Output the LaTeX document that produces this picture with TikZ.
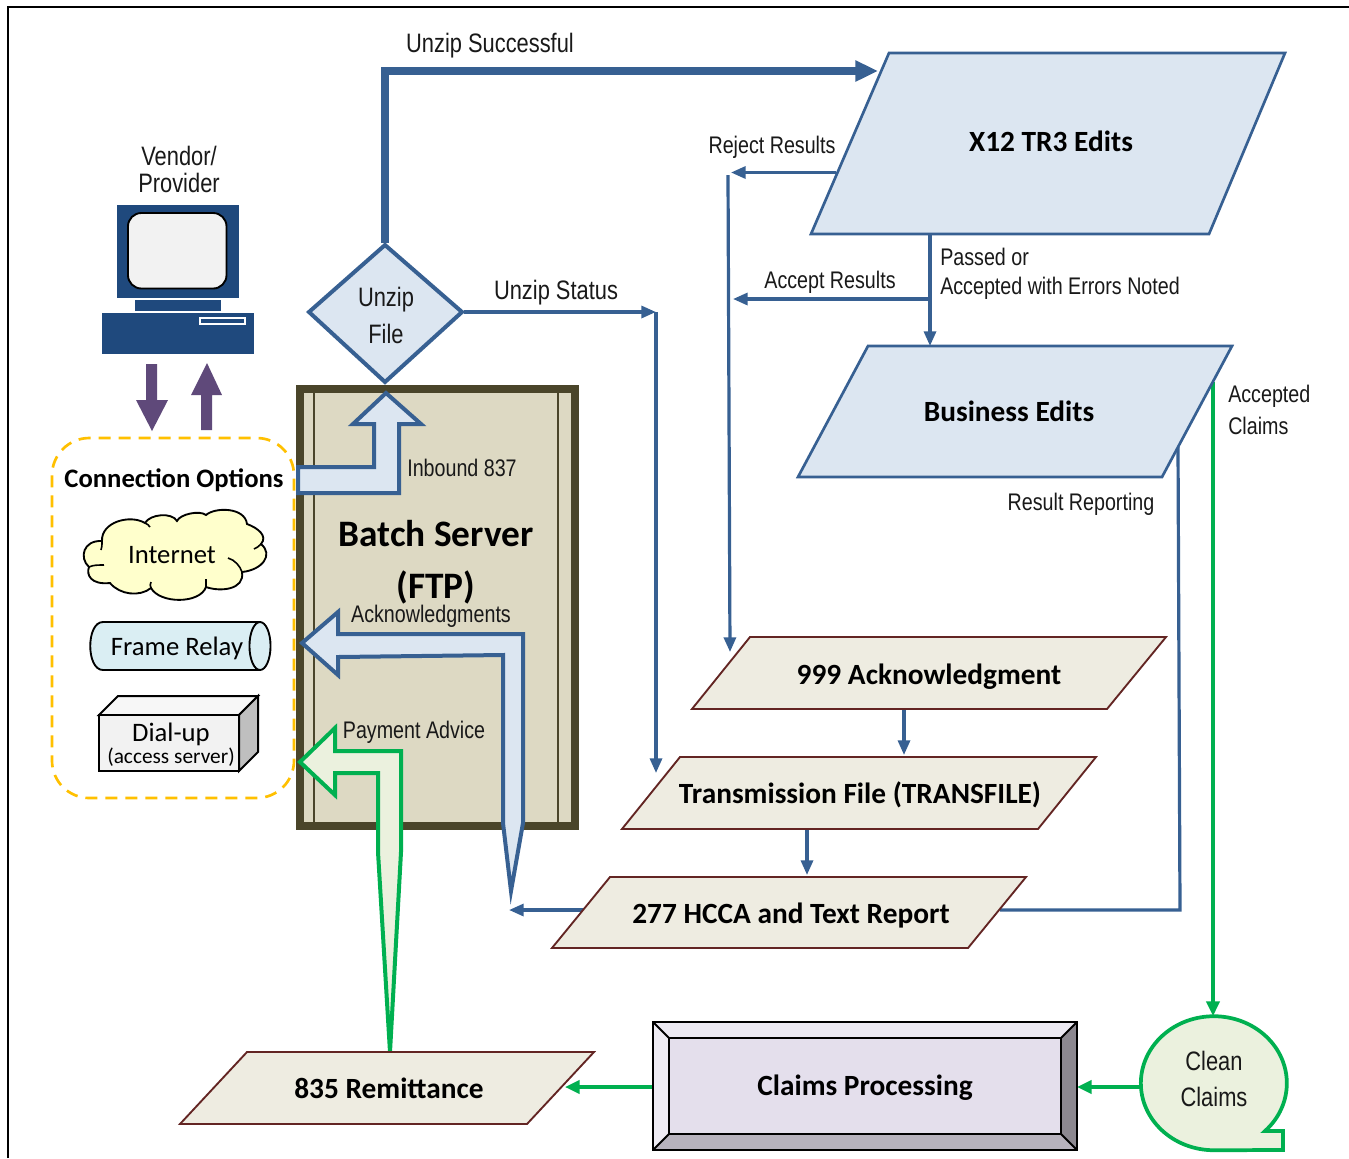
\documentclass[tikz,border=0pt]{standalone}
\usepackage{fontspec}
\setmainfont{Carlito}
\newfontfamily\narrowf[FakeStretch=0.82]{Liberation Sans}
\usetikzlibrary{arrows.meta}
\definecolor{bl}{HTML}{376092}
\definecolor{lb}{HTML}{DCE6F1}
\definecolor{gr}{HTML}{00B050}
\definecolor{lg}{HTML}{EBF1DE}
\definecolor{pu}{HTML}{5F497A}
\definecolor{ta}{HTML}{DDD9C3}
\definecolor{dk}{HTML}{4A452A}
\definecolor{cr}{HTML}{EEECE1}
\definecolor{re}{HTML}{632523}
\definecolor{nv}{HTML}{1F497D}
\definecolor{optcol}{HTML}{FFC000}
\definecolor{cloudc}{HTML}{FFFFCC}
\definecolor{frc}{HTML}{DAEEF3}
\definecolor{cpc}{HTML}{E4DFEC}
\definecolor{cpt}{HTML}{ECE9F2}
\definecolor{cpl}{HTML}{EFECF4}
\definecolor{cpb}{HTML}{B7B2BD}
\definecolor{cpr}{HTML}{8C8890}
\tikzset{
 x=0.75pt,y=-0.75pt,
 lab/.style={font=\narrowf\fontsize{18}{18}\selectfont,inner sep=0pt,text=black!90},
 biglab/.style={font=\narrowf\fontsize{20}{20}\selectfont,inner sep=0pt,text=black!90},
 hd/.style={font=\bfseries\fontsize{22}{22}\selectfont,inner sep=0pt},
 reg/.style={font=\fontsize{20}{20}\selectfont,inner sep=0pt},
 para/.style={draw=bl,fill=lb,line width=2pt,line join=miter},
 cream/.style={draw=re,fill=cr,line width=1.4pt},
 blk/.style={draw=bl,fill=lb,line width=3pt,line join=miter},
 grn/.style={draw=gr,fill=lg,line width=3pt,line join=miter},
 bluec/.style={draw=bl,line width=2.4pt,-{Triangle[length=11pt,width=9pt]}},
 bluep/.style={draw=bl,line width=2.4pt},
 greenc/.style={draw=gr,line width=2.4pt,-{Triangle[length=11pt,width=10pt]}},
 bev/.style={draw=black,line width=1.4pt,line join=miter},
 cloudtick/.style={draw=black,line width=1.2pt},
}
\begin{document}
\begin{tikzpicture}
\useasboundingbox (0,0) rectangle (1349,1158);
\fill[white] (0,0) rectangle (1349,1158);
% frame
\draw[black,line width=1.5pt] (8,1158) -- (8,6.5) -- (1349,6.5);

% computer
\node[biglab] (vend) at (179,156) {Vendor/};
\node[biglab] (prov) at (179,183) {Provider};
\fill[nv] (117,205) rectangle (239,298);
\draw[black,fill=black!5,line width=1.4pt,rounded corners=10pt] (128,213) rectangle (226.5,288.5);
\fill[nv] (135,300) rectangle (221,311);
\fill[nv] (102,313) rectangle (254,354);
\draw[white,line width=1pt] (200,318) rectangle (245,324);

% purple arrows
\fill[pu] (146,364) -- (157,364) -- (157,400) -- (168,400) -- (152,431) -- (136,400) -- (146,400) -- cycle;
\fill[pu] (201,430) -- (212,430) -- (212,395) -- (222,395) -- (207,363) -- (191,395) -- (201,395) -- cycle;

% batch server
\draw[dk,fill=ta,line width=6pt,line join=miter] (300,388.5) rectangle (575,825.5);
\draw[dk,line width=0.9pt] (314,392) -- (314,823);
\draw[dk,line width=0.9pt] (558,392) -- (558,823);
\node[font=\bfseries\fontsize{28}{28}\selectfont,inner sep=0pt] (batch) at (436,534) {Batch Server};
\node[font=\bfseries\fontsize{28}{28}\selectfont,inner sep=0pt] (ftp) at (436,587) {(FTP)};

% options box
\draw[draw=optcol,line width=2pt,dash pattern=on 9pt off 6pt,rounded corners=28pt] (52,438) rectangle (294,798);
\node[hd,font=\bfseries\fontsize{20}{20}\selectfont] (opts) at (174,480) {Connection Options};

% cloud
\draw[black,fill=cloudc,line width=1.4pt] (102,541)
 .. controls (101,522) and (130,514) .. (145,523)
 .. controls (150,514) and (172,512) .. (177,521)
 .. controls (180,514) and (200,510) .. (206,515)
 .. controls (215,507) and (245,507) .. (247,524)
 .. controls (258,528) and (268,536) .. (261,544)
 .. controls (274,555) and (262,570) .. (242,572)
 .. controls (245,590) and (220,592) .. (206,587)
 .. controls (200,604) and (160,604) .. (151,588)
 .. controls (140,597) and (120,595) .. (110,583)
 .. controls (91,585) and (86,575) .. (89,567)
 .. controls (79,558) and (83,540) .. (102,541) -- cycle;
\draw[cloudtick] (89,567) .. controls (93,565) and (98,565) .. (104,565);
\draw[cloudtick] (102,541) .. controls (102,545) and (102,548) .. (101,550);
\draw[cloudtick] (228,558) .. controls (235,560) and (240,566) .. (242,572);
\draw[cloudtick] (261,544) .. controls (259,546) and (257,548) .. (254,549);
\draw[cloudtick] (145,523) .. controls (147,524) and (149,525) .. (150,527);
\draw[cloudtick] (206,587) .. controls (206,584) and (206,582) .. (206,579);
\draw[cloudtick] (151,588) .. controls (150,586) and (150,584) .. (151,582);
\node[reg] (inet) at (172,555) {Internet};

% frame relay
\draw[black,fill=frc,line width=1.4pt] (260,622) -- (103,622) .. controls (86,622) and (86,670) .. (103,670) -- (260,670);
\draw[black,fill=frc,line width=1.4pt] (260,646) ellipse [x radius=7.9pt,y radius=18pt];
\node[reg] (frame) at (177,648) {Frame Relay};

% dial-up
\draw[black,fill=black!3,line width=1.5pt,line join=miter] (99,715) -- (118,696) -- (258,696) -- (239,715) -- cycle;
\draw[black,fill=black!25,line width=1.5pt,line join=miter] (239,715) -- (258,696) -- (258,752) -- (239,771) -- cycle;
\draw[black,fill=black!5,line width=1.5pt,line join=miter] (99,715) rectangle (239,771);
\node[reg] (dial) at (171,734) {Dial-up};
\node[reg,font=\fontsize{16}{16}\selectfont] (acc) at (171,757) {(access server)};

% anchors on shapes
\coordinate (dT) at (385,243);
\coordinate (dR) at (464,312);
\coordinate (xW) at (878,71);
\coordinate (xRej) at (836,172.5);
\coordinate (rejEnd) at (731,172.5);
\coordinate (rejTop) at (728,175);
\coordinate (ackW) at (730,652);
\coordinate (xS) at (930,234);
\coordinate (bN) at (930,346);
\coordinate (accL) at (733,299);
\coordinate (accR) at (930,299);
\coordinate (stBend) at (656,312);
\coordinate (tfN) at (656,773);
\coordinate (a9S) at (904,709);
\coordinate (tfTop) at (904,755);
\coordinate (tfS) at (807,829);
\coordinate (rpTop) at (807,875);
\coordinate (rpL) at (585,910);
\coordinate (rpEnd) at (509,910);
\coordinate (bzS) at (1178,447);
\coordinate (bzBend) at (1180,910);
\coordinate (rpR) at (1000,910);
\coordinate (bzG) at (1213,382);
\coordinate (ccN) at (1213,1016);
\coordinate (ccW) at (1142,1087);
\coordinate (cpE) at (1077,1087);
\coordinate (cpW) at (653,1087);
\coordinate (rmE) at (565,1087);

% thick connector
\draw[bl,line width=5.7pt,line join=miter,-{Triangle[length=17pt,width=15pt]}] (dT) -- (385,71) -- (xW);

% connectors behind shapes
\draw[bluec] (xRej) -- (rejEnd);
\draw[bluec] (rejTop) -- (ackW);
\draw[bluec] (accR) -- (accL);
\draw[bluec] (xS) -- (bN);
\draw[bluec] (dR) -- (stBend);
\draw[bluec] (stBend) -- (tfN);
\draw[bluec] (a9S) -- (tfTop);
\draw[bluec] (tfS) -- (rpTop);
\draw[bluec] (rpL) -- (rpEnd);
\draw[bluep,line join=miter] (bzS) -- (bzBend) -- (rpR);
\draw[greenc] (bzG) -- (ccN);
\draw[greenc] (ccW) -- (cpE);
\draw[greenc] (cpW) -- (rmE);

% diamond
\draw[para,line width=3pt] (385,245) -- (462,312) -- (385,382) -- (309,312) -- cycle;
\node[biglab] (unz) at (386,300) {Unzip};
\node[biglab] (fil) at (386,334) {File};

% hollow arrows
\draw[blk] (386,393) -- (421,424) -- (399,424) -- (399,493) -- (298,493) -- (298,467) -- (374,467) -- (374,424) -- (353,424) -- cycle;
\draw[blk] (302,643) -- (338,612) -- (338,634) -- (523,634) -- (523,823) -- (511,891) -- (503,823) -- (503,655) -- (338,657) -- (338,675) -- cycle;
\draw[grn] (300,762) -- (335,728) -- (335,751) -- (401,751) -- (401,852) -- (390,1052) -- (378,852) -- (378,773) -- (335,773) -- (335,795) -- cycle;
\node[lab] (inb) at (462,468) {Inbound 837};
\node[lab] (ack) at (431,616) {Acknowledgments};
\node[lab] (pay) at (414,732) {Payment Advice};

% parallelograms
\draw[para] (889,53) -- (1285,53) -- (1209,234) -- (811,234) -- cycle;
\node[hd] (x12) at (1051,141) {X12 TR3 Edits};
\draw[para] (868,346) -- (1232,346) -- (1162,477) -- (798,477) -- cycle;
\node[hd] (bus) at (1009,411) {Business Edits};
\draw[cream] (750,637) -- (1166,637) -- (1107,709) -- (692,709) -- cycle;
\node[hd] (n999) at (929,677) {999 Acknowledgment};
\draw[cream] (680,757) -- (1096,757) -- (1038,829) -- (622,829) -- cycle;
\node[hd] (tf) at (860,795) {Transmission File (TRANSFILE)};
\draw[cream] (610,877) -- (1026,877) -- (968,948) -- (552,948) -- cycle;
\node[hd] (rep) at (791,915) {277 HCCA and Text Report};
\draw[cream] (247,1052) -- (594,1052) -- (527,1124) -- (180,1124) -- cycle;
\node[hd] (rem) at (389,1088) {835 Remittance};

% claims processing
\fill[cpt] (653,1022) -- (1077,1022) -- (1061,1038) -- (669,1038) -- cycle;
\fill[cpl] (653,1022) -- (669,1038) -- (669,1134) -- (653,1150) -- cycle;
\fill[cpb] (653,1150) -- (669,1134) -- (1061,1134) -- (1077,1150) -- cycle;
\fill[cpr] (1077,1022) -- (1061,1038) -- (1061,1134) -- (1077,1150) -- cycle;
\draw[bev,fill=cpc] (669,1038) rectangle (1061,1134);
\draw[bev] (653,1022) rectangle (1077,1150);
\draw[bev] (653,1022) -- (669,1038) (1077,1022) -- (1061,1038) (653,1150) -- (669,1134) (1077,1150) -- (1061,1134);
\node[hd] (cp) at (865,1088) {Claims Processing};

% clean claims
\draw[grn,line width=2.8pt] (1265,1131) arc [start angle=-45.5,end angle=270,x radius=54.75pt,y radius=50.25pt] -- (1283,1150) -- (1283,1131) -- cycle;
\node[biglab] (cl1) at (1214,1061) {Clean};
\node[biglab] (cl2) at (1214,1097) {Claims};

% labels
\node[lab,font=\narrowf\fontsize{20}{20}\selectfont] (us) at (490,46) {Unzip Successful};
\node[lab] (rr) at (772,147) {Reject Results};
\node[lab] (ar) at (830,282) {Accept Results};
\node[lab,anchor=west] (po) at (940,257) {Passed or};
\node[lab,anchor=west] (ae) at (940,288) {Accepted with Errors Noted};
\node[lab,font=\narrowf\fontsize{20}{20}\selectfont] (uzs) at (556,293) {Unzip Status};
\node[lab,anchor=west] (ac1) at (1228,396) {Accepted};
\node[lab,anchor=west] (ac2) at (1228,426) {Claims};
\node[lab] (res) at (1081,504) {Result Reporting};
\end{tikzpicture}
\end{document}
